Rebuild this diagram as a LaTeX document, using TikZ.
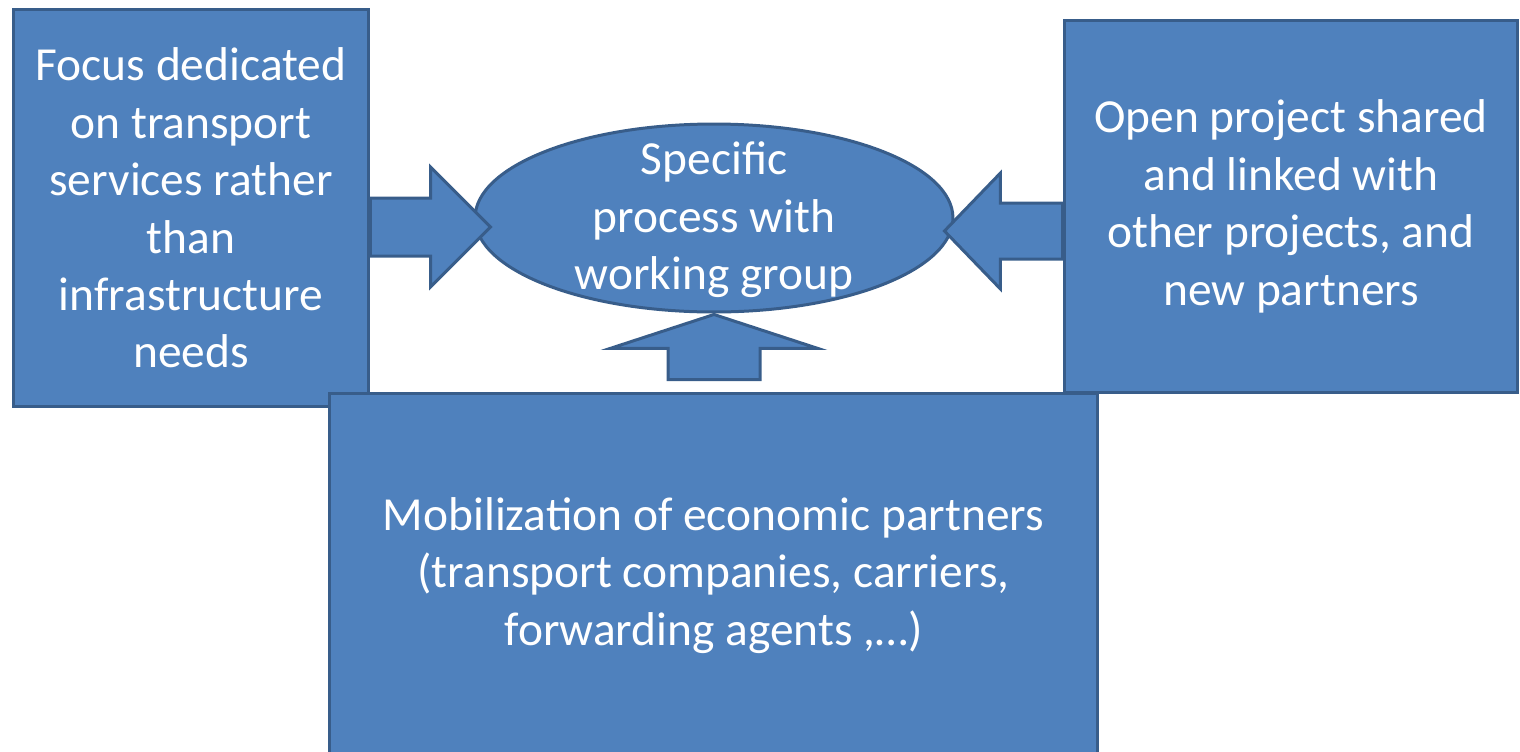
\documentclass[tikz,border=0pt]{standalone}
\usepackage{fontspec}
\setmainfont{Carlito}
\usepackage{xcolor}
\usetikzlibrary{shapes.geometric,calc}
\definecolor{boxfill}{RGB}{79,129,189}
\definecolor{boxline}{RGB}{56,93,138}
\newcommand{\boxfont}{\fontsize{27}{32.7}\selectfont}
\tikzstyle{box}=[draw=boxline, fill=boxfill, line width=0.06cm, text=white, align=center, font=\boxfont, inner sep=0pt]
\tikzstyle{blockarrow}=[draw=boxline, fill=boxfill, line width=0.06cm, line join=miter]

\begin{document}
\begin{tikzpicture}[x=0.02cm,y=-0.02cm]
  \useasboundingbox (0,0) rectangle (1520,751);
  \draw (191,208) node[box, minimum width=7.12cm, minimum height=7.96cm] (focus) {Focus dedicated\\on transport\\services rather\\than\\infrastructure\\needs};
  \draw (1291,206.5) node[box, minimum width=9.08cm, minimum height=7.46cm] (open) {Open project shared\\and linked with\\other projects, and\\new partners};
  \draw (713.5,575.5) node[box, minimum width=15.38cm, minimum height=7.3cm] (mobil) {Mobilization of economic partners\\(transport companies, carriers,\\forwarding agents ,…)};

  \draw (714,218) node[box, ellipse, minimum width=9.56cm, minimum height=3.76cm] (proc) {};

  %% Block arrows
  \coordinate (tipL) at ($(proc.west)+(17,9)$);
  \coordinate (tipR) at ($(proc.east)+(-10,13)$);
  \coordinate (tipU) at ($(proc.south)+(0,1)$);

  \draw[blockarrow] ($(focus.east |- tipL)+(0,-29)$) -- ($(tipL)+(-60,-29)$) -- ($(tipL)+(-60,-60)$) -- (tipL)
    -- ($(tipL)+(-60,60)$) -- ($(tipL)+(-60,29)$) -- ($(focus.east |- tipL)+(0,29)$) -- cycle;
  \draw[blockarrow] ($(open.west |- tipR)+(0,-28)$) -- ($(tipR)+(56,-28)$) -- ($(tipR)+(56,-58)$) -- (tipR)
    -- ($(tipR)+(56,58)$) -- ($(tipR)+(56,28)$) -- ($(open.west |- tipR)+(0,28)$) -- cycle;
  \draw[blockarrow] ($(tipU |- mobil.north)+(-46,-12)$) -- ($(tipU)+(-46,34)$) -- ($(tipU)+(-104,34)$) -- (tipU)
    -- ($(tipU)+(104,34)$) -- ($(tipU)+(46,34)$) -- ($(tipU |- mobil.north)+(46,-12)$) -- cycle;

  \draw ($(proc)+(0,2)$) node[text=white, align=center, font=\boxfont] (proctext) {Specific\\process with\\working group};
\end{tikzpicture}
\end{document}
